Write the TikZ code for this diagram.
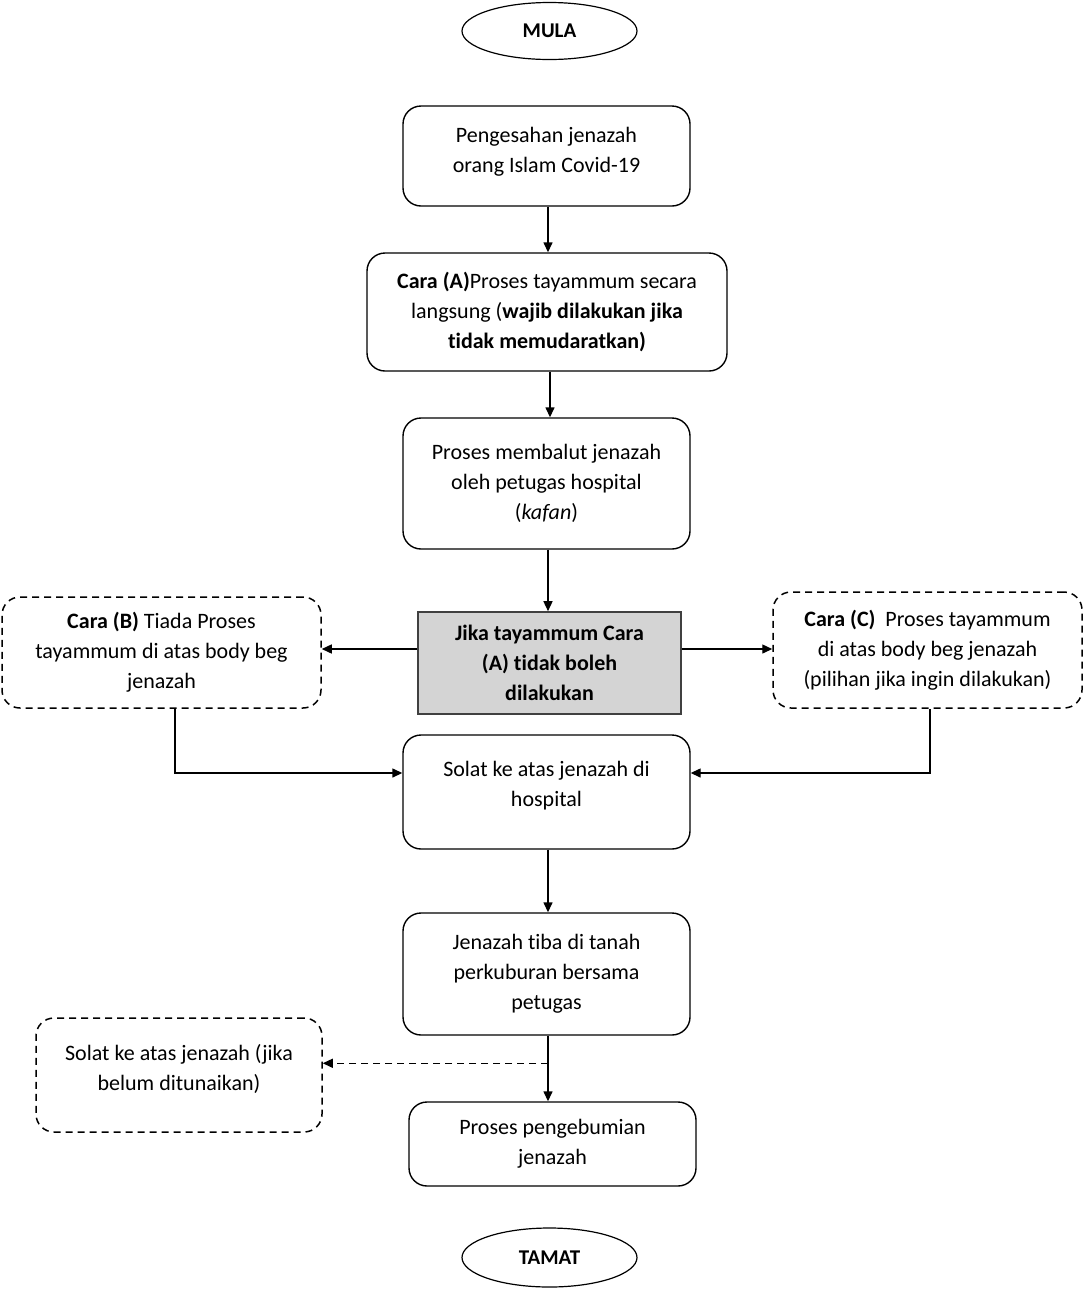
\documentclass[tikz,border=0pt]{standalone}
\usepackage{fontspec}
\setmainfont{Carlito}[Ligatures=NoCommon]
\usetikzlibrary{arrows.meta,calc,shapes.geometric}
\begin{document}
\begin{tikzpicture}[x=1pt,y=-1pt,
  every node/.style={font=\fontsize{22}{30}\selectfont, align=center, inner sep=0pt},
  rbox/.style={draw=black, line width=1.4pt, rounded corners=18pt},
  dbox/.style={draw=black, line width=1.5pt, rounded corners=18pt, dash pattern=on 7pt off 5pt},
  gbox/.style={draw=black!75, line width=1.6pt, fill=black!17, font=\fontsize{22}{30}\selectfont\bfseries},
  term/.style={draw=black, line width=1.2pt, ellipse, font=\fontsize{21}{30}\selectfont\bfseries},
  arr/.style={line width=1.4pt, -{Triangle[length=10pt,width=9pt]}},
  darr/.style={arr, dash pattern=on 7pt off 5pt}]
\useasboundingbox (0,0) rectangle (1087,1291);
\node[term, minimum width=175pt, minimum height=57pt] (mula) at (549.5,31) {MULA};
\node[rbox, minimum width=287pt, minimum height=100pt] (b1) at (546.5,156) {Pengesahan jenazah\\orang Islam Covid-19\\[-18pt]\mbox{}};
\node[rbox, minimum width=360pt, minimum height=118pt] (b2) at (547,312) {\textbf{Cara (A)}Proses tayammum secara\\langsung (\textbf{wajib dilakukan jika}\\\textbf{tidak memudaratkan)}};
\node[rbox, minimum width=287pt, minimum height=131pt] (b3) at (546.5,483.5) {Proses membalut jenazah\\oleh petugas hospital\\(\textit{kafan})};
\node[gbox, minimum width=263pt, minimum height=102pt] (dec) at (549.5,663) {Jika tayammum Cara\\(A) tidak boleh\\dilakukan};
\node[dbox, minimum width=319pt, minimum height=111pt] (cb) at (161.5,652.5) {\textbf{Cara (B)} Tiada Proses\\tayammum di atas body beg\\jenazah};
\node[dbox, minimum width=309pt, minimum height=116pt] (cc) at (927.5,650) {\textbf{Cara (C)}\ \ Proses tayammum\\di atas body beg jenazah\\(pilihan jika ingin dilakukan)};
\node[rbox, minimum width=287pt, minimum height=114pt] (solat) at (546.5,792) {Solat ke atas jenazah di\\hospital\\[-14pt]\mbox{}};
\node[rbox, minimum width=287pt, minimum height=122pt] (tiba) at (546.5,974) {Jenazah tiba di tanah\\perkuburan bersama\\petugas};
\node[dbox, minimum width=286pt, minimum height=114pt] (sd) at (179,1075) {Solat ke atas jenazah (jika\\belum ditunaikan)\\[-14pt]\mbox{}};
\node[rbox, minimum width=287pt, minimum height=84pt] (peng) at (552.5,1144) {Proses pengebumian\\jenazah};
\node[term, minimum width=175pt, minimum height=59pt] (tamat) at (549.5,1257.5) {TAMAT};
\draw[arr] ([xshift=1.5pt]b1.south) -- ([xshift=1.5pt]b1.south |- b2.north);
\draw[arr] ([xshift=3pt]b2.south) -- ([xshift=3pt]b2.south |- b3.north);
\draw[arr] ([xshift=1.5pt]b3.south) -- ([xshift=1.5pt]b3.south |- dec.north);
\draw[arr] ([yshift=14pt]dec.west) -- ([yshift=14pt]dec.west -| cb.east);
\draw[arr] ([yshift=14pt]dec.east) -- ([yshift=14pt]dec.east -| cc.west);
\draw[arr] ([xshift=13.5pt]cb.south) |- ([yshift=19pt]solat.west);
\draw[arr] ([xshift=2.5pt]cc.south) |- ([yshift=19pt]solat.east);
\draw[arr] ([xshift=1.5pt]solat.south) -- ([xshift=1.5pt]solat.south |- tiba.north);
\draw[arr] ([xshift=1.5pt]tiba.south) -- ([xshift=1.5pt]tiba.south |- peng.north);
\coordinate (m) at ($([xshift=1.5pt]tiba.south)!0.42!([xshift=1.5pt]tiba.south |- peng.north)$);
\draw[darr] (m) -- (m -| sd.east);
\end{tikzpicture}
\end{document}
